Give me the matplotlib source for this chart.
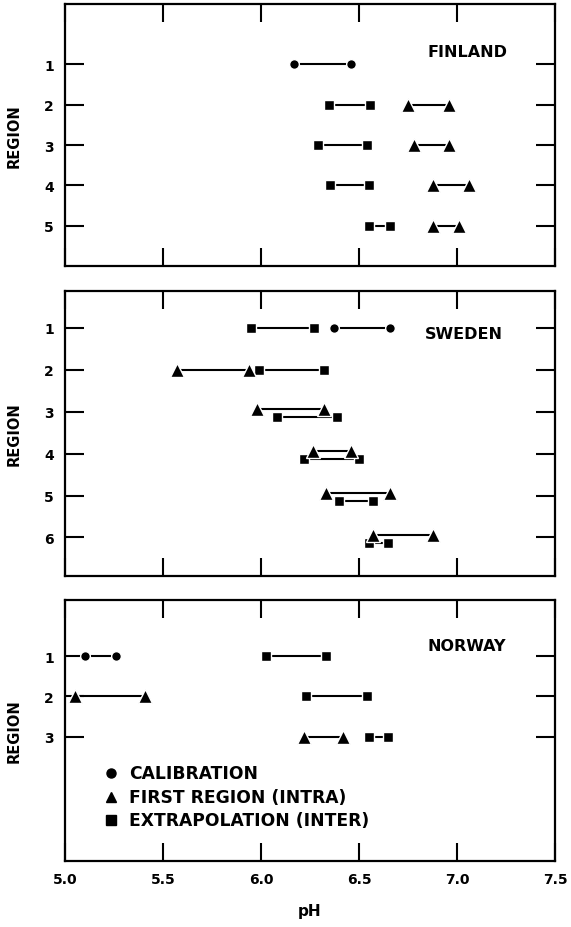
#pH ranges by region for Finland, Sweden and Norway
import numpy as np
import matplotlib.pyplot as plt

#Data: (region, low pH, high pH)
fin_cal = [(1, 6.17, 6.46)]
fin_intra = [(2, 6.75, 6.96), (3, 6.78, 6.96), (4, 6.875, 7.06), (5, 6.875, 7.01)]
fin_inter = [(2, 6.345, 6.557), (3, 6.29, 6.54), (4, 6.35, 6.55), (5, 6.55, 6.66)]

swe_cal = [(1, 6.37, 6.66)]
swe_intra = [(2, 5.57, 5.94), (3, 5.98, 6.32), (4, 6.265, 6.46), (5, 6.33, 6.66), (6, 6.57, 6.88)]
swe_inter = [(1, 5.95, 6.27), (2, 5.99, 6.32), (3, 6.08, 6.39), (4, 6.22, 6.50), (5, 6.40, 6.57), (6, 6.55, 6.65)]

nor_cal = [(1, 5.10, 5.26)]
nor_intra = [(2, 5.05, 5.41), (3, 6.22, 6.42)]
nor_inter = [(1, 6.025, 6.33), (2, 6.23, 6.54), (3, 6.55, 6.65)]

x_ticks = [5.0, 5.5, 6.0, 6.5, 7.0, 7.5]
x_labels = ['5.0', '5.5', '6.0', '6.5', '7.0', '7.5']
legend_labels = ['CALIBRATION', 'FIRST REGION (INTRA)', 'EXTRAPOLATION (INTER)']

plt.rcParams['font.family'] = 'DejaVu Sans'
plt.rcParams['font.weight'] = 'bold'

fig = plt.figure(figsize=(5.71, 9.28), dpi=100)
ax1 = fig.add_axes([0.1138, 0.7123, 0.8582, 0.2823])
ax2 = fig.add_axes([0.1138, 0.3782, 0.8582, 0.3071])
ax3 = fig.add_axes([0.1138, 0.0711, 0.8582, 0.2813])

sizes = {'o': 7, 's': 7.5, '^': 9.5}

#Draw one set of ranges
def draw(ax, data, marker, shift_rows=(), shift=0.0):
	for r, lo, hi in data:
		y = r + (shift if r in shift_rows else 0.0)
		ax.plot([lo, hi], [y, y], color='black', lw=1.5, marker=marker, ms=sizes[marker],
				mfc='black', mec='white', mew=1.0, solid_capstyle='butt')

panels = [
	(ax1, 'FINLAND', fin_cal, fin_intra, fin_inter, 5, (6.0, -0.5), ()),
	(ax2, 'SWEDEN', swe_cal, swe_intra, swe_inter, 6, (6.92, 0.12), (3, 4, 5, 6)),
	(ax3, 'NORWAY', nor_cal, nor_intra, nor_inter, 3, (6.1, -0.4), ()),
]

for ax, name, cal, intra, inter, n, ylim, stagger in panels:
	draw(ax, cal, 'o')
	draw(ax, inter, 's', stagger, 0.13)
	draw(ax, intra, '^', stagger, -0.07)
	ax.set_xlim(5.0, 7.5)
	ax.set_ylim(*ylim)
	ax.set_yticks(range(1, n + 1))
	ax.set_yticklabels([str(i) for i in range(1, n + 1)], fontsize=10, fontweight='bold')
	ax.set_xticks(x_ticks)
	ax.tick_params(axis='x', direction='in', top=True, length=13, width=1.5, pad=8)
	ax.tick_params(axis='y', direction='in', right=True, length=14, width=1.5, pad=8)
	for s in ax.spines.values():
		s.set_linewidth(1.6)
	ax.set_ylabel('REGION', fontsize=10.5, fontweight='bold', labelpad=16)
	ax.text(0.74, 0.0, name, transform=ax.transAxes, fontsize=11.5, fontweight='bold')
	if ax is ax3:
		ax.set_xticklabels(x_labels, fontsize=10, fontweight='bold')
	else:
		ax.set_xticklabels([])

#Country label heights
ax1.texts[0].set_position((0.74, 0.80))
ax2.texts[0].set_position((0.735, 0.835))
ax3.texts[0].set_position((0.74, 0.81))

ax3.set_xlabel('pH', fontsize=11, fontweight='bold', labelpad=12)

#Legend in lower panel
leg_markers = ['o', '^', 's']
leg_y = [0.338, 0.246, 0.158]
for m, lab, yy in zip(leg_markers, legend_labels, leg_y):
	ax3.plot([0.094], [yy], marker=m, color='black', ms=7 if m == '^' else 6.5, ls='none', transform=ax3.transAxes)
	ax3.text(0.131, yy, lab, transform=ax3.transAxes, fontsize=12.3, fontweight='bold', va='center')

plt.savefig('out.png', dpi=100)
